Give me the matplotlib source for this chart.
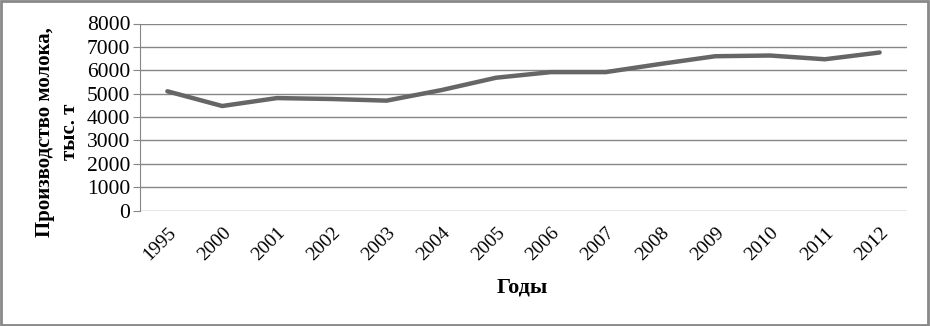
import matplotlib.pyplot as plt
from matplotlib.patches import Rectangle

years = ["1995", "2000", "2001", "2002", "2003", "2004", "2005",
         "2006", "2007", "2008", "2009", "2010", "2011", "2012"]
milk = [5100, 4470, 4810, 4770, 4700, 5150, 5680,
        5920, 5920, 6270, 6600, 6630, 6470, 6760]
y_ticks = [0, 1000, 2000, 3000, 4000, 5000, 6000, 7000, 8000]

W, H = 930, 326


def main():
    plt.rcParams["font.family"] = ["Liberation Serif", "DejaVu Serif"]
    fig = plt.figure(figsize=(W / 100, H / 100), dpi=100)
    ax = fig.add_axes([140 / W, 1 - 210.5 / H, 767 / W, 187 / H])

    x = list(range(len(years)))
    ax.plot(x, milk, color="#666666", lw=3.2, solid_capstyle="round", zorder=3)

    ax.set_xlim(-0.5, len(years) - 0.5)
    ax.set_ylim(0, 8000)
    ax.set_yticks(y_ticks)
    ax.set_yticklabels([str(v) for v in y_ticks], fontsize=15.5)
    ax.set_xticks(x)
    ax.set_xticklabels(years, rotation=45, ha="right", rotation_mode="anchor",
                       fontsize=14)
    ax.tick_params(axis="x", length=0, pad=10)
    ax.tick_params(axis="y", length=5, color="#868686", pad=2)
    ax.grid(axis="y", color="#868686", lw=1)
    ax.set_axisbelow(True)
    for s in ["top", "right", "bottom"]:
        ax.spines[s].set_visible(False)
    ax.spines["left"].set_color("#868686")

    ax.set_ylabel("Производство молока,\nтыс. т", fontsize=15,
                  fontweight="bold", linespacing=1.35)
    ax.yaxis.set_label_coords(-0.078, 0.42)
    fig.text(522 / W, 1 - 287 / H, "Годы", fontsize=16, fontweight="bold",
             ha="center", va="center")

    fig.patches.append(Rectangle((0.001, 0.002), 0.997, 0.995,
                                 transform=fig.transFigure, fill=False,
                                 edgecolor="#888888", lw=2))
    fig.savefig("out.png", dpi=100)


if __name__ == "__main__":
    main()
